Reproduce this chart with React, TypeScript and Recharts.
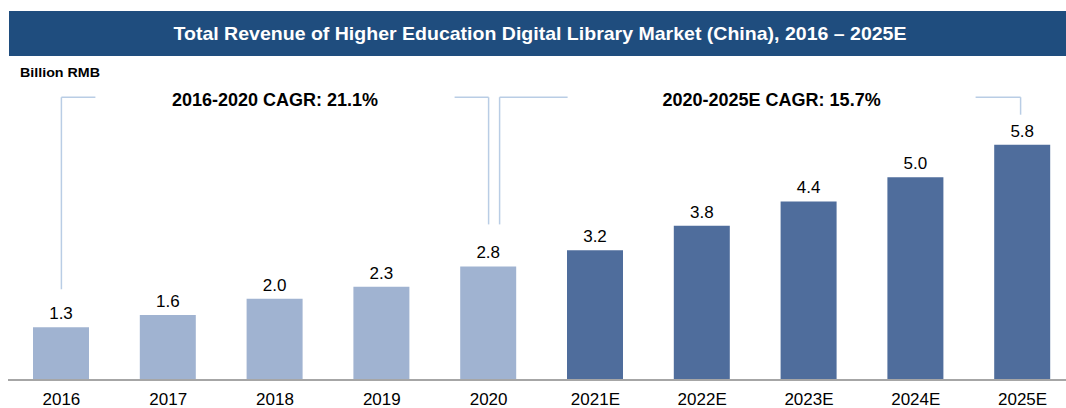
import React from "react";
import { BarChart, Bar, XAxis, YAxis, Cell, LabelList, ReferenceLine } from "recharts";

const categories = ["2016", "2017", "2018", "2019", "2020", "2021E", "2022E", "2023E", "2024E", "2025E"];
const revenue = [1.3, 1.6, 2.0, 2.3, 2.8, 3.2, 3.8, 4.4, 5.0, 5.8];
const cagrLabels = ["2016-2020 CAGR: 21.1%", "2020-2025E CAGR: 15.7%"];
const cagrSpans = [["2016", "2020"], ["2020", "2025E"]];

const data = categories.map((c, i) => ({ year: c, value: revenue[i] }));
const valueOf = (c: string) => revenue[categories.indexOf(c)];

const LIGHT = "#A0B3D1";
const DARK = "#4F6D9C";
const BRACKET = "#B9CDE5";
const FONT = "'Liberation Sans', Arial, sans-serif";
const BRACKET_TOP = 6.97;

const hStubs = (text: string, dxL: number, dxR: number, stubL: number, stubR: number) => (p: any) => {
  const xl = p.x1 + dxL;
  const xr = p.x2 + dxR;
  const y = p.y1;
  return (
    <g>
      <path d={`M${xl},${y}H${xl + stubL}M${xr - stubR},${y}H${xr}`} stroke={BRACKET} strokeWidth={1.5} fill="none" />
      <text x={(xl + stubL + xr - stubR) / 2} y={y + 8.5} textAnchor="middle" fontFamily={FONT} fontWeight="bold" fontSize={18} fill="#000">
        {text}
      </text>
    </g>
  );
};

const vLine = (dx: number, gap: number) => (p: any) => (
  <path d={`M${p.x1 + dx},${p.y1 - gap}V${p.y2}`} stroke={BRACKET} strokeWidth={1.5} fill="none" />
);

export default function App() {
  return (
    <div style={{ position: "absolute", left: 0, top: 0, width: 1066, height: 408, overflow: "hidden", background: "#fff" }}>
      <BarChart width={1080} height={408} data={data} margin={{ top: 96, right: 4, left: 8, bottom: 0 }} barSize={56}>
        <YAxis hide domain={[0, 7]} type="number" />
        <XAxis
          dataKey="year"
          height={28}
          axisLine={{ stroke: "#A6A6A6", strokeWidth: 2 }}
          tickLine={false}
          tickSize={0}
          tickMargin={13}
          interval={0}
          tick={{ fill: "#000", fontSize: 17, fontFamily: FONT }}
        />
        <Bar dataKey="value" isAnimationActive={false}>
          {data.map((d) => (
            <Cell key={d.year} fill={d.year.endsWith("E") ? DARK : LIGHT} />
          ))}
          <LabelList dataKey="value" position="top" offset={8} formatter={(v: any) => Number(v).toFixed(1)} style={{ fill: "#000", fontSize: 17, fontFamily: FONT }} />
        </Bar>
        <ReferenceLine segment={[{ x: cagrSpans[0][0], y: BRACKET_TOP }, { x: cagrSpans[0][1], y: BRACKET_TOP }]} shape={hStubs(cagrLabels[0], 0, 0, 34, 34)} ifOverflow="visible" />
        <ReferenceLine segment={[{ x: cagrSpans[1][0], y: BRACKET_TOP }, { x: cagrSpans[1][1], y: BRACKET_TOP }]} shape={hStubs(cagrLabels[1], 11, -2, 68, 45)} ifOverflow="visible" />
        <ReferenceLine segment={[{ x: "2016", y: valueOf("2016") }, { x: "2016", y: BRACKET_TOP }]} shape={vLine(0, 38)} ifOverflow="visible" />
        <ReferenceLine segment={[{ x: "2020", y: valueOf("2020") }, { x: "2020", y: BRACKET_TOP }]} shape={vLine(0, 42)} ifOverflow="visible" />
        <ReferenceLine segment={[{ x: "2020", y: valueOf("2020") }, { x: "2020", y: BRACKET_TOP }]} shape={vLine(11, 42)} ifOverflow="visible" />
        <ReferenceLine segment={[{ x: "2025E", y: valueOf("2025E") }, { x: "2025E", y: BRACKET_TOP }]} shape={vLine(-2, 30)} ifOverflow="visible" />
      </BarChart>
      <svg width={1066} height={408} style={{ position: "absolute", left: 0, top: 0, pointerEvents: "none" }}>
        <rect x={9} y={11} width={1057} height={45} fill="#1F4D7E" />
        <text x={540} y={40} textAnchor="middle" fontFamily={FONT} fontWeight="bold" fontSize={19} fill="#fff" textLength={733} lengthAdjust="spacingAndGlyphs">
          Total Revenue of Higher Education Digital Library Market (China), 2016 – 2025E
        </text>
        <text x={20} y={77} fontFamily={FONT} fontWeight="bold" fontSize={13.5} fill="#000" textLength={80} lengthAdjust="spacingAndGlyphs">
          Billion RMB
        </text>
      </svg>
    </div>
  );
}
